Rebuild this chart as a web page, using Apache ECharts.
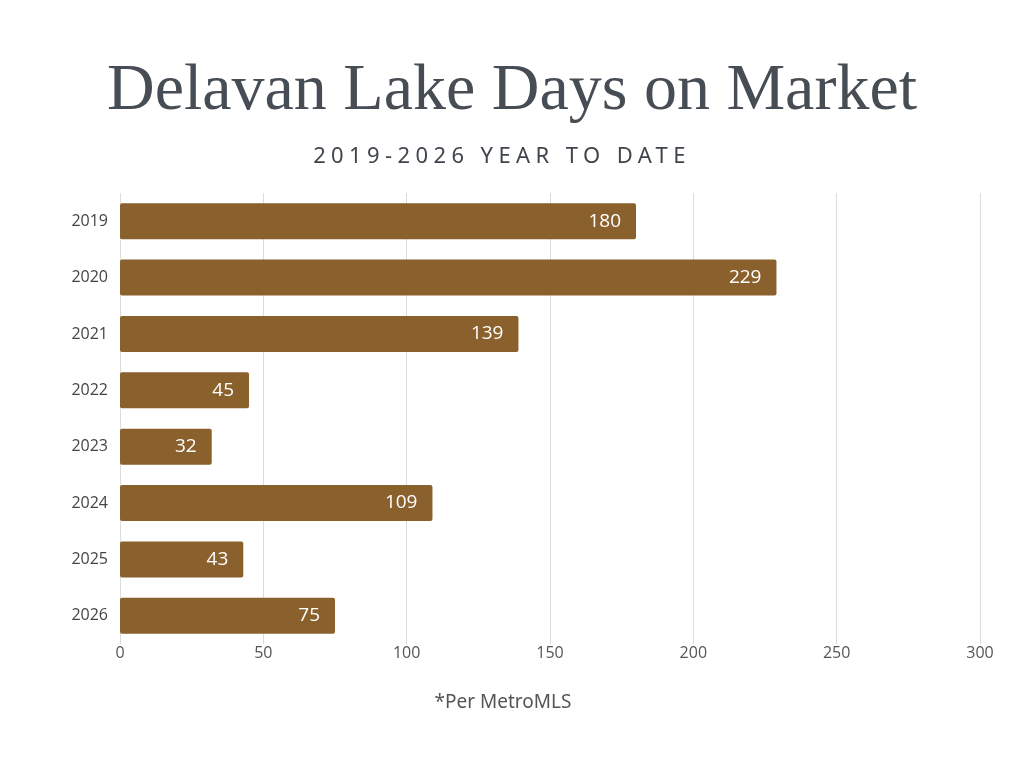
<!DOCTYPE html>
<html>
<head>
<meta charset="utf-8">
<script src="https://cdn.jsdelivr.net/npm/echarts@6/dist/echarts.min.js"></script>
<style>
  html, body { margin: 0; padding: 0; background: #fff; }
  #wrap { position: relative; width: 1024px; height: 768px; }
  #chart { width: 1024px; height: 768px; }
  #sub {
    position: absolute; left: 0; top: 139px; width: 1024px; text-align: center;
    font-family: 'Noto Sans', sans-serif; font-size: 22px; letter-spacing: 5.4px;
    color: #3f454d; padding-right: 20px; box-sizing: border-box;
  }
</style>
</head>
<body>
<div id="wrap">
  <div id="chart"></div>
  <div id="sub">2019-2026 YEAR TO DATE</div>
</div>
<script>
  const years = ['2019', '2020', '2021', '2022', '2023', '2024', '2025', '2026']
  const daysOnMarket = [180, 229, 139, 45, 32, 109, 43, 75]

  const chart = echarts.init(document.getElementById('chart'))

  const option = {
    backgroundColor: '#fff',
    animation: false,
    title: [
      {
        text: 'Delavan Lake Days on Market',
        left: 'center',
        top: 54,
        textStyle: {
          fontFamily: 'Liberation Serif',
          fontWeight: 'normal',
          fontSize: 66,
          color: '#474d55'
        }
      },
      {
        text: '*Per MetroMLS',
        left: 498,
        textAlign: 'center',
        top: 688,
        textStyle: {
          fontFamily: 'Noto Sans',
          fontWeight: 'normal',
          fontSize: 19,
          color: '#555'
        }
      }
    ],
    grid: {
      left: 120,
      right: 44,
      top: 193,
      bottom: 124,
      containLabel: false
    },
    xAxis: {
      type: 'value',
      min: 0,
      max: 300,
      interval: 50,
      axisLine: { show: false },
      axisTick: { show: false },
      axisLabel: {
        margin: 1,
        fontFamily: 'Open Sans',
        fontSize: 16,
        color: '#555'
      },
      splitLine: { lineStyle: { color: '#dcdcdc', width: 1 } }
    },
    yAxis: {
      type: 'category',
      data: years,
      inverse: true,
      axisLine: { show: false },
      axisTick: { show: false },
      axisLabel: {
        margin: 12,
        fontFamily: 'Open Sans',
        fontSize: 16,
        color: '#444'
      }
    },
    series: [{
      type: 'bar',
      data: daysOnMarket,
      barWidth: 36,
      itemStyle: { color: '#8a602d', borderRadius: 2 },
      label: {
        show: true,
        position: 'insideRight',
        distance: 15,
        fontFamily: 'Open Sans',
        fontSize: 19,
        color: '#fff'
      }
    }]
  }

  chart.setOption(option)
</script>
</body>
</html>
